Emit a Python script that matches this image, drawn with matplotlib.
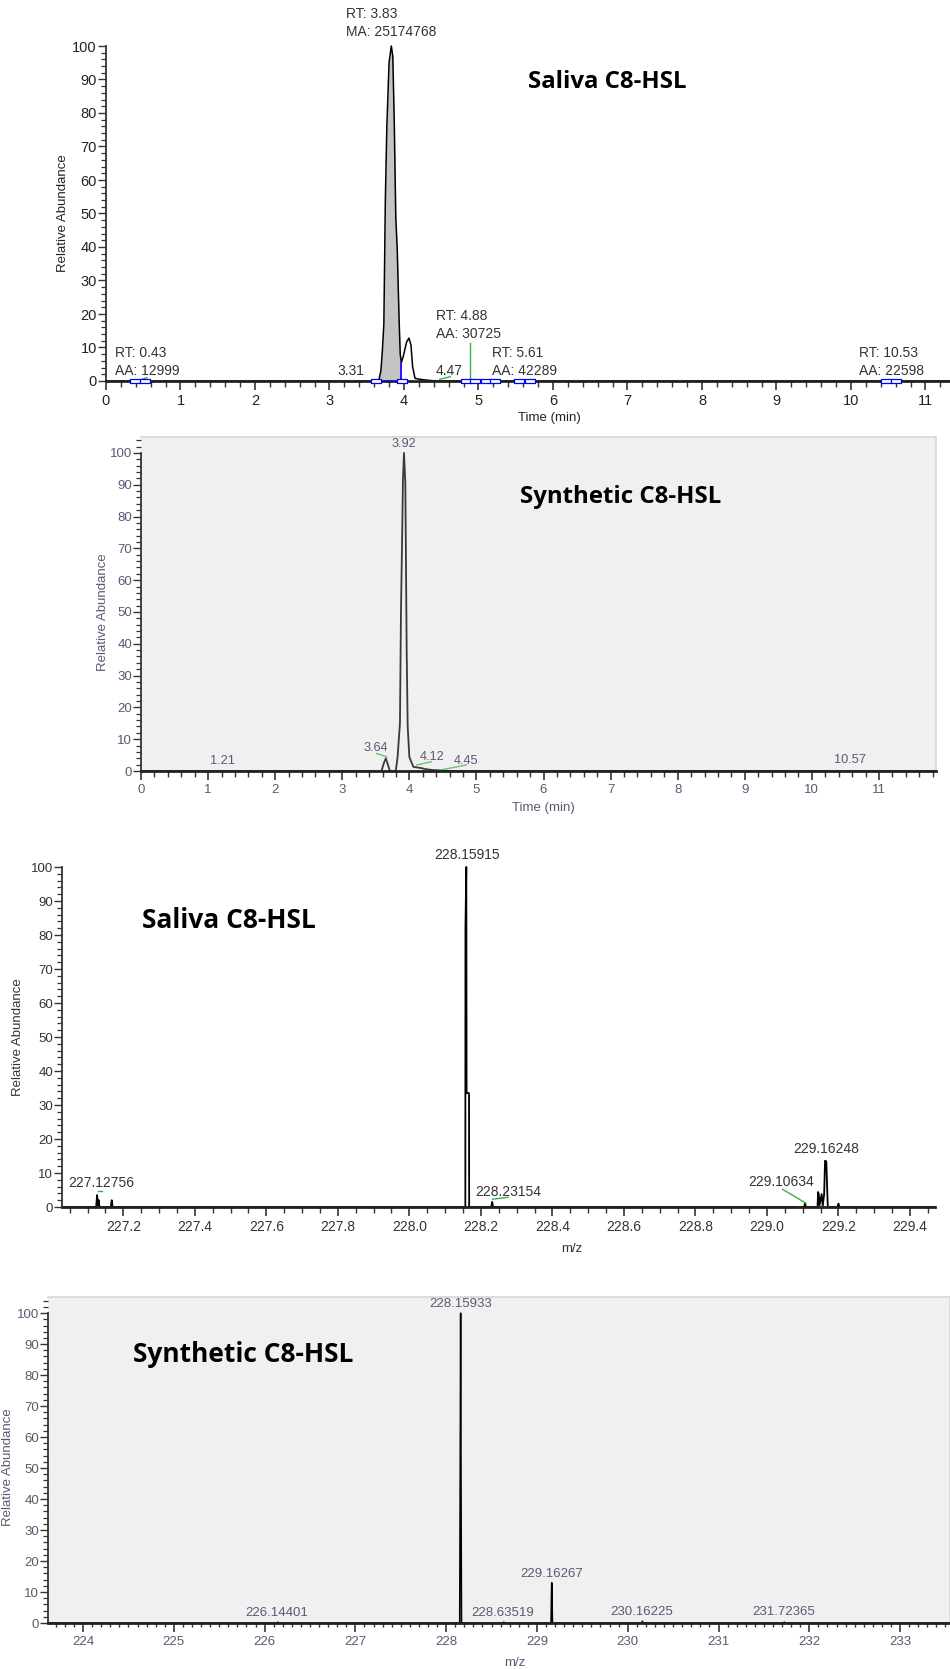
import matplotlib
matplotlib.use("Agg")
import matplotlib.pyplot as plt
from matplotlib.ticker import MultipleLocator, FixedLocator
from matplotlib.path import Path

plt.rcParams['font.family'] = ['Liberation Sans', 'DejaVu Sans']

# ---- data ----

# saliva chromatogram (time in min, relative abundance)
sal_time = [0.0, 3.66, 3.69, 3.71, 3.73, 3.75, 3.77, 3.80, 3.83, 3.85, 3.87, 3.89, 3.91,
            3.935, 3.95, 3.965, 3.99, 4.036, 4.067, 4.094, 4.116, 4.148, 4.215, 4.33, 4.45, 11.33]
sal_abund = [0, 0, 3, 9, 17, 54, 76, 95, 100, 97, 77, 49, 39,
             18, 8, 5.5, 7.3, 11.7, 12.8, 10.7, 4.3, 0.8, 0.5, 0.2, 0, 0]
sal_area = (3.66, 3.965)
sal_marks = [0.39, 0.52, 3.62, 3.98, 4.83, 4.96, 5.10, 5.22, 5.55, 5.69, 10.47, 10.61]
sal_bases = [(0.39, 0.52), (3.62, 3.98), (4.83, 5.22), (5.55, 5.69), (10.47, 10.61)]
sal_labels = ["RT: 3.83\nMA: 25174768", "RT: 0.43\nAA: 12999", "3.31",
              "RT: 4.88\nAA: 30725", "4.47", "RT: 5.61\nAA: 42289", "RT: 10.53\nAA: 22598"]
sal_label_x = [3.83, 0.56, 3.29, 4.87, 4.60, 5.62, 10.54]
sal_label_y = [106.9, 5.7, 3.0, 16.7, 3.0, 5.7, 5.7]
sal_green = [([4.88, 4.88], [0, 11.3]), ([4.48, 4.62], [0.5, 1.3]), ([0.43, 0.55], [0.1, 1.0])]

# synthetic chromatogram
syn_time = [0.0, 3.585, 3.62, 3.65, 3.68, 3.71, 3.78, 3.80, 3.825, 3.86, 3.875, 3.895, 3.905,
            3.92, 3.94, 3.96, 3.975, 4.00, 4.06, 4.12, 4.18, 4.24, 4.35, 4.45, 4.6, 11.85]
syn_abund = [0, 0, 2.5, 4.0, 2.0, 0, 0, 0.3, 4.5, 15, 50, 77, 92,
             100, 90.6, 38, 14, 4.4, 1.3, 1.1, 0.9, 0.6, 0.3, 0.2, 0, 0]
syn_labels = ["3.92", "3.64", "4.12", "4.45", "1.21", "10.57"]
syn_label_x = [3.92, 3.50, 4.34, 4.84, 1.21, 10.57]
syn_label_y = [102.8, 7.2, 4.5, 3.2, 3.2, 3.5]
syn_green = [([3.51, 3.66], [5.5, 4.5]), ([4.11, 4.33], [1.9, 2.9]), ([4.46, 4.85], [0.3, 1.9])]

# saliva mass spectrum (m/z, relative abundance)
sal_mz = [227.03, 227.124, 227.1267, 227.129, 227.131, 227.133, 227.135, 227.165, 227.1675, 227.170,
          228.1565, 228.1568, 228.1592, 228.1600, 228.1668, 228.1672,
          228.229, 228.2315, 228.234, 229.104, 229.1063, 229.109,
          229.1415, 229.1430, 229.1450, 229.1470, 229.1530, 229.1560, 229.1600, 229.1625,
          229.1660, 229.1700, 229.1710, 229.197, 229.200, 229.203, 229.47]
sal_int = [0, 0, 3.5, 0.5, 2.0, 0.3, 0, 0, 2.0, 0,
           0, 82, 100, 33.5, 33.5, 0,
           0, 1.5, 0, 0, 1.0, 0,
           0, 4.4, 3.8, 0.5, 3.8, 0.3, 3.8, 13.6,
           13.4, 0.5, 0, 0, 1.0, 0, 0]
salms_labels = ["228.15915", "227.12756", "228.23154", "229.10634", "229.16248"]
salms_label_x = [228.1625, 227.1376, 228.2757, 229.0405, 229.1658]
salms_label_y = [103.5, 7.1, 4.5, 7.4, 17.0]
salms_green = [([227.130, 227.1395], [4.8, 4.8]), ([228.2324, 228.276], [2.3, 2.85]),
               ([229.044, 229.109], [5.2, 1.1])]

# synthetic mass spectrum
syn_mz = [223.62, 226.141, 226.144, 226.147, 228.149, 228.155, 228.1593, 228.163, 228.169,
          228.632, 228.635, 228.638, 229.155, 229.160, 229.1627, 229.166, 229.171,
          230.159, 230.162, 230.165, 231.720, 231.724, 231.727, 233.55]
syn_int = [0, 0, 0.3, 0, 0, 55, 100, 55, 0,
           0, 0.3, 0, 0, 9.6, 13, 9.6, 0,
           0, 0.6, 0, 0, 0.3, 0, 0]
synms_labels = ["228.15933", "229.16267", "228.63519", "230.16225", "231.72365", "226.14401"]
synms_label_x = [228.164, 229.164, 228.627, 230.154, 231.722, 226.134]
synms_label_y = [103.1, 15.8, 3.3, 3.5, 3.5, 3.3]

# ---- figure ----
W, H = 950, 1669
fig = plt.figure(figsize=(W / 100, H / 100), dpi=100)
PURPLE = '#645473'
GRAYBG = '#f0f0f0'


def px_axes(left, top, right, bottom):
    # axes placed in pixel coords of the reference
    return fig.add_axes([left / W, 1 - bottom / H, (right - left) / W, (bottom - top) / H])


def style_axis(ax, color, xmaj, xmin, xsize, ysize, boxed):
    ax.spines['top'].set_visible(boxed)
    ax.spines['right'].set_visible(boxed)
    if boxed:
        ax.set_facecolor(GRAYBG)
        for s in ('top', 'right'):
            ax.spines[s].set_color('#d6d6d6')
            ax.spines[s].set_linewidth(1.2)
        ax.spines['left'].set_bounds(0, 100)
    ax.spines['bottom'].set_linewidth(2)
    ax.spines['bottom'].set_color('#222222')
    ax.spines['left'].set_linewidth(1.3)
    ax.spines['left'].set_color('#333333')
    ax.xaxis.set_major_locator(xmaj)
    ax.xaxis.set_minor_locator(xmin)
    ax.yaxis.set_major_locator(MultipleLocator(10))
    ax.yaxis.set_minor_locator(MultipleLocator(2))
    ax.tick_params(axis='x', which='major', length=6.5, width=1.2, pad=3,
                   labelsize=xsize, labelcolor=color, color='#333333')
    ax.tick_params(axis='x', which='minor', length=4.3, width=1.0, color='#333333')
    ax.tick_params(axis='y', which='major', length=5.5, width=1.0, pad=1,
                   labelsize=ysize, labelcolor=color, color='#333333')
    ax.tick_params(axis='y', which='minor', length=3.5, width=0.9, color='#333333')


def title(x, y, s, size):
    fig.text(x / W, 1 - y / H, s, fontsize=size, fontweight='bold',
             family=['Open Sans', 'DejaVu Sans'], ha='left', va='center', color='black')


# panel 1: saliva chromatogram
ax1 = px_axes(106, 46, 950, 381)
ax1.set_xlim(0, 11.33)
ax1.set_ylim(0, 100)
style_axis(ax1, '#222222', MultipleLocator(1), MultipleLocator(0.2), 10.5, 10.5, False)
ax1.fill_between(sal_time, sal_abund, where=[sal_area[0] <= t <= sal_area[1] for t in sal_time],
                 color='#c4c4c4', lw=0)
ax1.plot(sal_time, sal_abund, color='black', lw=1.1, clip_on=False)
for a, b in sal_bases:
    ax1.plot([a, b], [0, 0], color='blue', lw=0.8, clip_on=False, zorder=4)
ax1.plot([sal_area[1], sal_area[1]], [0, sal_abund[sal_time.index(sal_area[1])]], color='blue', lw=1.2)
rect = Path([(-1, -0.5), (1, -0.5), (1, 0.5), (-1, 0.5), (-1, -0.5)],
            [Path.MOVETO, Path.LINETO, Path.LINETO, Path.LINETO, Path.CLOSEPOLY])
ax1.plot(sal_marks, [0] * len(sal_marks), ls='none', marker=rect, ms=6.5, mfc='white',
         mec='blue', mew=0.9, clip_on=False, zorder=5)
for gx, gy in sal_green:
    ax1.plot(gx, gy, color='#3cb043', lw=1)
for s, x, y in zip(sal_labels, sal_label_x, sal_label_y):
    ax1.text(x, y, s, ha='center', va='center', multialignment='left', fontsize=10,
             color='#333333', linespacing=1.3)
ax1.text(0.525, -0.11, 'Time (min)', transform=ax1.transAxes, ha='center', va='center',
         fontsize=9.5, color='#222222')
ax1.text(-0.051, 0.5, 'Relative Abundance', transform=ax1.transAxes, ha='center', va='center',
         rotation=90, fontsize=9.5, color='#222222')
title(528, 82, 'Saliva C8-HSL', 17.3)

# panel 2: synthetic chromatogram
ax2 = px_axes(141, 437, 936, 771)
ax2.set_xlim(0, 11.85)
ax2.set_ylim(0, 105)
style_axis(ax2, PURPLE, MultipleLocator(1), MultipleLocator(0.2), 9.5, 9.5, True)
ax2.plot(syn_time, syn_abund, color='#3a3a3a', lw=1.3)
for gx, gy in syn_green:
    ax2.plot(gx, gy, color='#6cc36c', lw=1)
for s, x, y in zip(syn_labels, syn_label_x, syn_label_y):
    ax2.text(x, y, s, ha='center', va='center', fontsize=9.2, color=PURPLE)
ax2.text(0.506, -0.111, 'Time (min)', transform=ax2.transAxes, ha='center', va='center',
         fontsize=9.5, color=PURPLE)
ax2.text(-0.048, 0.476, 'Relative Abundance', transform=ax2.transAxes, ha='center',
         va='center', rotation=90, fontsize=9.5, color=PURPLE)
title(520, 497, 'Synthetic C8-HSL', 17.3)

# panel 3: saliva mass spectrum
ax3 = px_axes(62, 867, 935, 1207)
ax3.set_xlim(227.0285, 229.47)
ax3.set_ylim(0, 100)
style_axis(ax3, '#333333', FixedLocator([227.2, 227.4, 227.6, 227.8, 228.0, 228.2, 228.4,
                                           228.6, 228.8, 229.0, 229.2, 229.4]),
           MultipleLocator(0.05), 10, 9.5, False)
ax3.xaxis.set_major_formatter(plt.FuncFormatter(lambda v, p: f'{v:.1f}'))
ax3.plot(sal_mz, sal_int, color='black', lw=1.3, clip_on=False)
for gx, gy in salms_green:
    ax3.plot(gx, gy, color='#3cb043', lw=1)
for s, x, y in zip(salms_labels, salms_label_x, salms_label_y):
    ax3.text(x, y, s, ha='center', va='center', fontsize=10, color='#333333')
ax3.text(0.584, -0.124, 'm/z', transform=ax3.transAxes, ha='center', va='center',
         fontsize=9.5, color='#333333')
ax3.text(-0.0504, 0.5, 'Relative Abundance', transform=ax3.transAxes, ha='center',
         va='center', rotation=90, fontsize=9.5, color='#333333')
title(142, 920, 'Saliva C8-HSL', 19)

# panel 4: synthetic mass spectrum
ax4 = px_axes(48, 1297, 950, 1623)
ax4.set_xlim(223.614, 233.55)
ax4.set_ylim(0, 105.2)
style_axis(ax4, PURPLE, MultipleLocator(1), MultipleLocator(0.1), 9.5, 9.5, True)
ax4.tick_params(axis='x', which='minor', length=3)
ax4.plot(syn_mz, syn_int, color='black', lw=1.1)
for s, x, y in zip(synms_labels, synms_label_x, synms_label_y):
    ax4.text(x, y, s, ha='center', va='center', fontsize=9.5, color=PURPLE)
ax4.text(0.517, -0.123, 'm/z', transform=ax4.transAxes, ha='center', va='center',
         fontsize=9.5, color=PURPLE)
ax4.text(-0.0443, 0.478, 'Relative Abundance', transform=ax4.transAxes, ha='center',
         va='center', rotation=90, fontsize=9.5, color=PURPLE)
title(133, 1355, 'Synthetic C8-HSL', 19)

fig.savefig('out.png', dpi=100, facecolor='white')
